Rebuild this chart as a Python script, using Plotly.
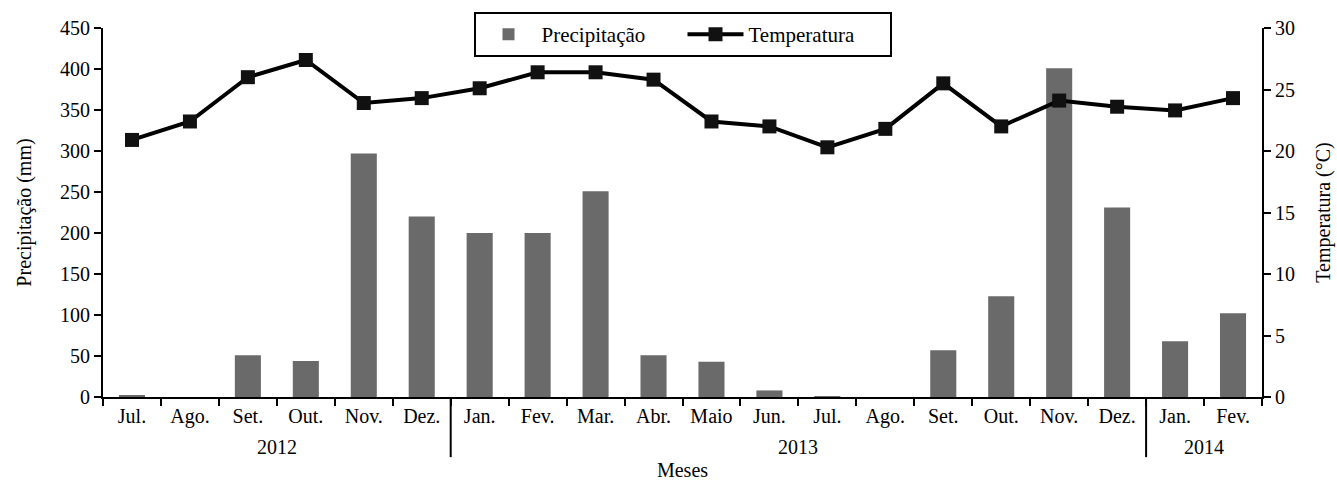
import plotly.graph_objects as go

months = ["Jul.", "Ago.", "Set.", "Out.", "Nov.", "Dez.",
          "Jan.", "Fev.", "Mar.", "Abr.", "Maio", "Jun.", "Jul.", "Ago.", "Set.", "Out.", "Nov.", "Dez.",
          "Jan.", "Fev."]
years = ["2012"] * 6 + ["2013"] * 12 + ["2014"] * 2
precip = [2, 0, 51, 44, 297, 220, 200, 200, 251, 51, 43, 8, 1, 0, 57, 123, 401, 231, 68, 102]
temp = [20.9, 22.4, 26.0, 27.4, 23.9, 24.3, 25.1, 26.4, 26.4, 25.8, 22.4, 22.0, 20.3, 21.8,
        25.5, 22.0, 24.1, 23.6, 23.3, 24.3]

idx = list(range(len(months)))
FONT = "Liberation Serif, Times New Roman, serif"
FS = 20

fig = go.Figure()
fig.add_trace(go.Bar(x=idx, y=precip, name="Precipitação", marker=dict(color="#6a6a6a", line=dict(width=0)),
                     width=0.45, yaxis="y"))
fig.add_trace(go.Scatter(x=idx, y=temp, name="Temperatura", mode="lines+markers",
                         line=dict(color="black", width=4),
                         marker=dict(symbol="square", size=14, color="#111111"), yaxis="y2"))

# year group labels and separators
groups = []
for i, y in enumerate(years):
    if not groups or groups[-1][0] != y:
        groups.append([y, i, i])
    else:
        groups[-1][2] = i
for gi, (y, s, e) in enumerate(groups):
    fig.add_annotation(x=(s + e) / 2, y=0, xref="x", yref="paper", text=y, showarrow=False,
                       yshift=-50, yanchor="middle", font=dict(family=FONT, size=FS, color="black"))
    if gi > 0:
        fig.add_shape(type="line", xref="x", yref="paper", x0=s - 0.5, x1=s - 0.5, y0=0, y1=-0.163,
                      line=dict(color="black", width=2))

fig.update_layout(
    width=1337, height=481,
    margin=dict(l=103, r=75, t=28, b=84, autoexpand=False),
    plot_bgcolor="white", paper_bgcolor="white",
    font=dict(family=FONT, size=FS, color="black"),
    showlegend=True,
    legend=dict(orientation="h", x=0.5, xanchor="center", xref="paper",
                y=1 - 12 / 481, yanchor="top", yref="container",
                bordercolor="black", borderwidth=2, bgcolor="white",
                font=dict(family=FONT, size=21), itemwidth=56,
                entrywidth=136, entrywidthmode="pixels", tracegroupgap=0),
    xaxis=dict(range=[-0.5, len(months) - 0.5], tickmode="array", tickvals=idx, ticktext=months,
               ticks="", showline=True, linecolor="black", linewidth=2, showgrid=False, zeroline=False,
               automargin=False,
               minor=dict(tick0=-0.5, dtick=1, ticks="outside", ticklen=7, tickwidth=2, tickcolor="black"),
               title=dict(text="Meses", font=dict(size=FS), standoff=41),
               tickfont=dict(size=FS)),
    yaxis=dict(range=[0, 450], dtick=50, ticks="outside", ticklen=7, tickwidth=2, tickcolor="black",
               showline=True, linecolor="black", linewidth=2, showgrid=False, zeroline=False,
               automargin=False,
               title=dict(text="Precipitação (mm)", font=dict(size=FS), standoff=23),
               tickfont=dict(size=FS)),
    yaxis2=dict(range=[0, 30], dtick=5, overlaying="y", side="right", ticks="outside", ticklen=7,
                tickwidth=2, tickcolor="black", showline=True, linecolor="black", linewidth=2,
                showgrid=False, zeroline=False, automargin=False,
                title=dict(text="Temperatura (°C)", font=dict(size=FS), standoff=22),
                tickfont=dict(size=FS)),
)

fig.write_html("out.html", config={"displayModeBar": False},
               post_script="document.body.style.margin='0';")
